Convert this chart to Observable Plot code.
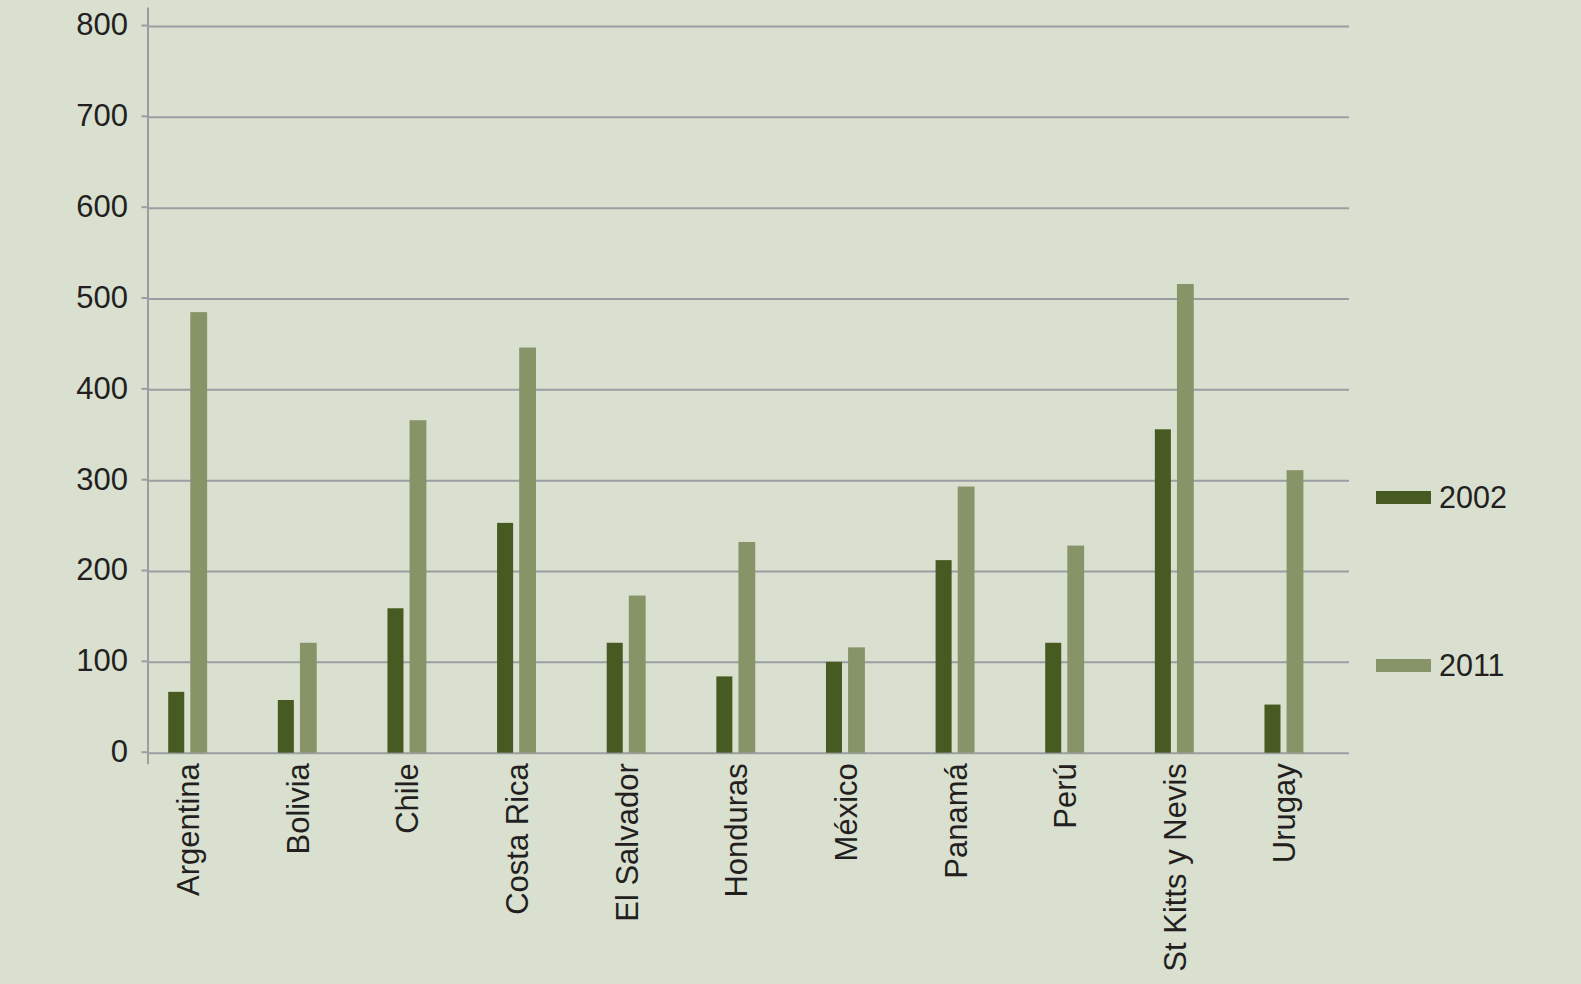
<!DOCTYPE html>
<html>
<head>
<meta charset="utf-8">
<script src="https://cdn.jsdelivr.net/npm/d3@7"></script>
<script src="https://cdn.jsdelivr.net/npm/@observablehq/plot@0.6"></script>
<style>
  html, body { margin: 0; padding: 0; background: #d9e0cf; }
  #wrap { position: relative; width: 1581px; height: 984px; overflow: hidden; background: #d9e0cf; }
  .leg { position: absolute; display: flex; align-items: center; font-family: "Liberation Sans", Arial, sans-serif; font-size: 30.5px; color: #231f20; }
  .sw { width: 55px; height: 13px; margin-right: 8px; }
</style>
</head>
<body>
<div id="wrap"></div>
<script>
const countries = ["Argentina","Bolivia","Chile","Costa Rica","El Salvador","Honduras","México","Panamá","Perú","St Kitts y Nevis","Urugay"];
const values2002 = [67, 58, 159, 253, 121, 84, 100, 212, 121, 356, 53];
const values2011 = [485, 121, 366, 446, 173, 232, 116, 293, 228, 516, 311];
const years = ["2002", "2011"];
const colors = ["#475a21", "#879468"];
const yTicks = [0, 100, 200, 300, 400, 500, 600, 700, 800];

const rows2002 = countries.map((c, i) => ({country: c, value: values2002[i]}));
const rows2011 = countries.map((c, i) => ({country: c, value: values2011[i]}));

const gridColor = "#9a9ea2";
const textColor = "#231f20";

const chart = Plot.plot({
  width: 1581,
  height: 984,
  marginLeft: 147.5,
  marginRight: 232,
  marginTop: 26,
  marginBottom: 231.3,
  style: {background: "transparent", fontFamily: "'Liberation Sans', Arial, sans-serif", color: textColor},
  x: {domain: countries, range: [132.9, 1338.8], padding: 0, round: false},
  y: {domain: [0, 800]},
  marks: [
    Plot.ruleY(yTicks, {stroke: gridColor, strokeWidth: 2}),
    Plot.frame({anchor: "left", stroke: gridColor, strokeWidth: 2, insetTop: -18, insetBottom: -10}),
    Plot.barY(rows2002, {x: "country", y: "value", fill: colors[0], insetLeft: 46.8, insetRight: 46.8, dx: -11.5}),
    Plot.barY(rows2011, {x: "country", y: "value", fill: colors[1], insetLeft: 46.4, insetRight: 46.4, dx: 11}),
    Plot.axisY({ticks: yTicks, tickSize: 6, tickPadding: 14, fontSize: 31, stroke: gridColor, strokeWidth: 2, tickFormat: d => String(d), label: null, dy: -1, color: textColor}),
    Plot.axisX({tickSize: 0, tickPadding: 10, tickRotate: -90, fontSize: 31, label: null, dx: 1, color: textColor})
  ]
});
chart.style.position = "absolute";
chart.style.left = "0px";
chart.style.top = "0px";
const wrap = document.getElementById("wrap");
wrap.appendChild(chart);

const legendTops = [480.5, 648.5];
years.forEach((yr, i) => {
  const d = document.createElement("div");
  d.className = "leg";
  d.style.left = "1376px";
  d.style.top = legendTops[i] + "px";
  d.style.height = "34px";
  const sw = document.createElement("div");
  sw.className = "sw";
  sw.style.background = colors[i];
  const t = document.createElement("span");
  t.textContent = yr;
  d.appendChild(sw);
  d.appendChild(t);
  wrap.appendChild(d);
});
</script>
</body>
</html>
